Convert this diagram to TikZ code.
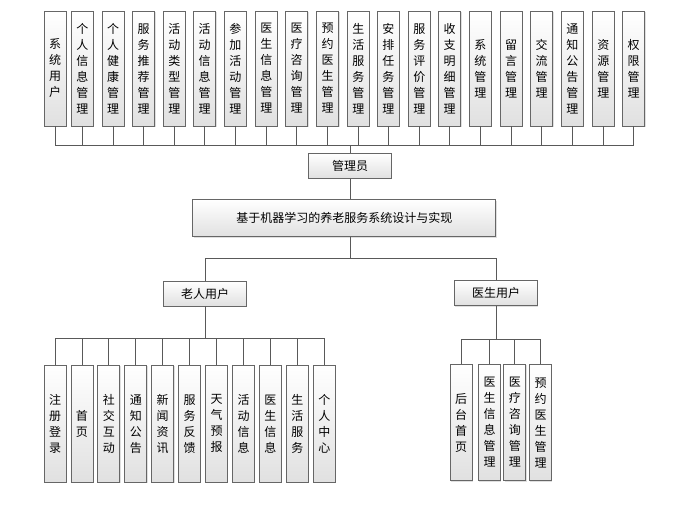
\documentclass[tikz,border=0pt]{standalone}
\usepackage{fontspec}
\setmainfont{Noto Sans CJK SC}
\usetikzlibrary{shadows}

\tikzset{
  mod/.style={draw=black!60, line width=0.8pt, top color=white, bottom color=black!12,
    inner sep=0pt, align=center, font=\fontsize{12}{16}\selectfont,
    drop shadow={opacity=0.25, shadow xshift=0.8pt, shadow yshift=-0.8pt}},
  vbox/.style={mod, minimum width=22pt},
  hbox/.style={mod, minimum height=25pt, minimum width=83pt},
  link/.style={draw=black!65, line width=0.8pt}
}

\begin{document}
\begin{tikzpicture}[x=1pt,y=-1pt]
\useasboundingbox (0,0) rectangle (684,508);

% top level
\node[hbox] (admin) at (350,165.8) {管理员};
\node[hbox, minimum width=303pt, minimum height=37pt] (sys) at (344.3,218.3) {基于机器学习的养老服务系统设计与实现};
\node[hbox] (old) at (205,293.5) {老人用户};
\node[hbox] (doc) at (496,293.2) {医生用户};

\draw[link] (admin.south) -- (admin.south |- sys.north);
\draw[link] (admin.south |- sys.south) -- ++(0,21.3) -| (old.north);
\draw[link] (admin.south |- sys.south) -- ++(0,21.3) -| (doc.north);

% admin modules
\foreach \x/\t [count=\i] in {55/{系\\统\\用\\户}, 82.3/{个\\人\\信\\息\\管\\理},
    113/{个\\人\\健\\康\\管\\理}, 143.7/{服\\务\\推\\荐\\管\\理}, 174.3/{活\\动\\类\\型\\管\\理},
    204.7/{活\\动\\信\\息\\管\\理}, 235.3/{参\\加\\活\\动\\管\\理}, 266.3/{医\\生\\信\\息\\管\\理},
    296.7/{医\\疗\\咨\\询\\管\\理}, 327.7/{预\\约\\医\\生\\管\\理}, 358.3/{生\\活\\服\\务\\管\\理},
    388.3/{安\\排\\任\\务\\管\\理}, 419.3/{服\\务\\评\\价\\管\\理}, 449.7/{收\\支\\明\\细\\管\\理},
    480.3/{系\\统\\管\\理}, 511/{留\\言\\管\\理}, 541.7/{交\\流\\管\\理},
    572.3/{通\\知\\公\\告\\管\\理}, 603.3/{资\\源\\管\\理}, 633.7/{权\\限\\管\\理}}
{
  \node[vbox, minimum height=115pt] (t\i) at (\x,68.5) {\t};
  \draw[link] (admin.north) -- ++(0,-7.3) -| (t\i.south);
}

% elderly user modules
\foreach \t [count=\i] in {{注\\册\\登\\录}, {首\\页}, {社\\交\\互\\动}, {通\\知\\公\\告},
    {新\\闻\\资\\讯}, {服\\务\\反\\馈}, {天\\气\\预\\报}, {活\\动\\信\\息},
    {医\\生\\信\\息}, {生\\活\\服\\务}, {个\\人\\中\\心}}
{
  \node[vbox, minimum height=117.7pt] (e\i) at ({55+26.93*(\i-1)},423.8) {\t};
  \draw[link] (old.south) -- ++(0,32) -| (e\i.north);
}

% doctor user modules
\foreach \x/\t [count=\i] in {461.2/{后\\台\\首\\页}, 489.5/{医\\生\\信\\息\\管\\理},
    514.8/{医\\疗\\咨\\询\\管\\理}, 540.5/{预\\约\\医\\生\\管\\理}}
{
  \node[vbox, minimum height=116.4pt] (d\i) at (\x,422.5) {\t};
  \draw[link] (doc.south) -- ++(0,33.3) -| (d\i.north);
}

\end{tikzpicture}
\end{document}
